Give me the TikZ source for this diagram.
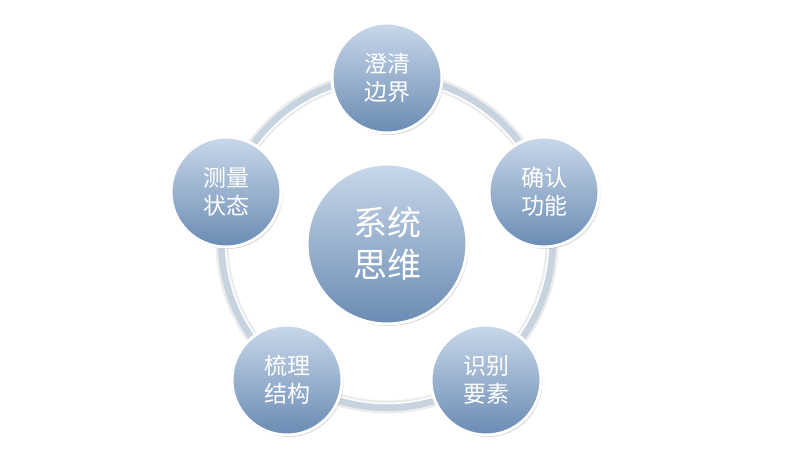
\documentclass[tikz,border=0pt]{standalone}
\usepackage{fontspec}
\newfontfamily\cjk{Noto Sans CJK SC}
\usetikzlibrary{shadows}
\definecolor{ntop}{HTML}{C9D8EA}
\definecolor{nbot}{HTML}{6A8BB3}
\definecolor{ringc}{HTML}{C8D3E0}
\tikzset{
  bub/.style={circle,draw=white,line width=3pt,top color=ntop,bottom color=nbot,
    minimum size=110pt,inner sep=0pt,text=white,align=center,font=\cjk\fontsize{23}{28}\selectfont,
    drop shadow={opacity=0.35,shadow xshift=1.5pt,shadow yshift=-2pt}},
  big/.style={bub,minimum size=160pt,font=\cjk\fontsize{34}{42}\selectfont},
}
\begin{document}
\begin{tikzpicture}[x=1pt,y=-1pt]
\useasboundingbox (0,0) rectangle (808,462);
\coordinate (c) at (387,242);
\draw[white!85!gray,line width=13pt] (c) circle (165);
\draw[ringc,line width=8pt] (c) circle (165);
\draw[white,line width=1.5pt] (c) circle (161.5);
\node[big] (m) at (387,244) {系统\\思维};
\node[bub] (a) at (387,78) {澄清\\边界};
\node[bub] (b) at (544,192) {确认\\功能};
\node[bub] (d) at (486,380) {识别\\要素};
\node[bub] (e) at (287,380) {梳理\\结构};
\node[bub] (f) at (226,192) {测量\\状态};
\end{tikzpicture}
\end{document}
